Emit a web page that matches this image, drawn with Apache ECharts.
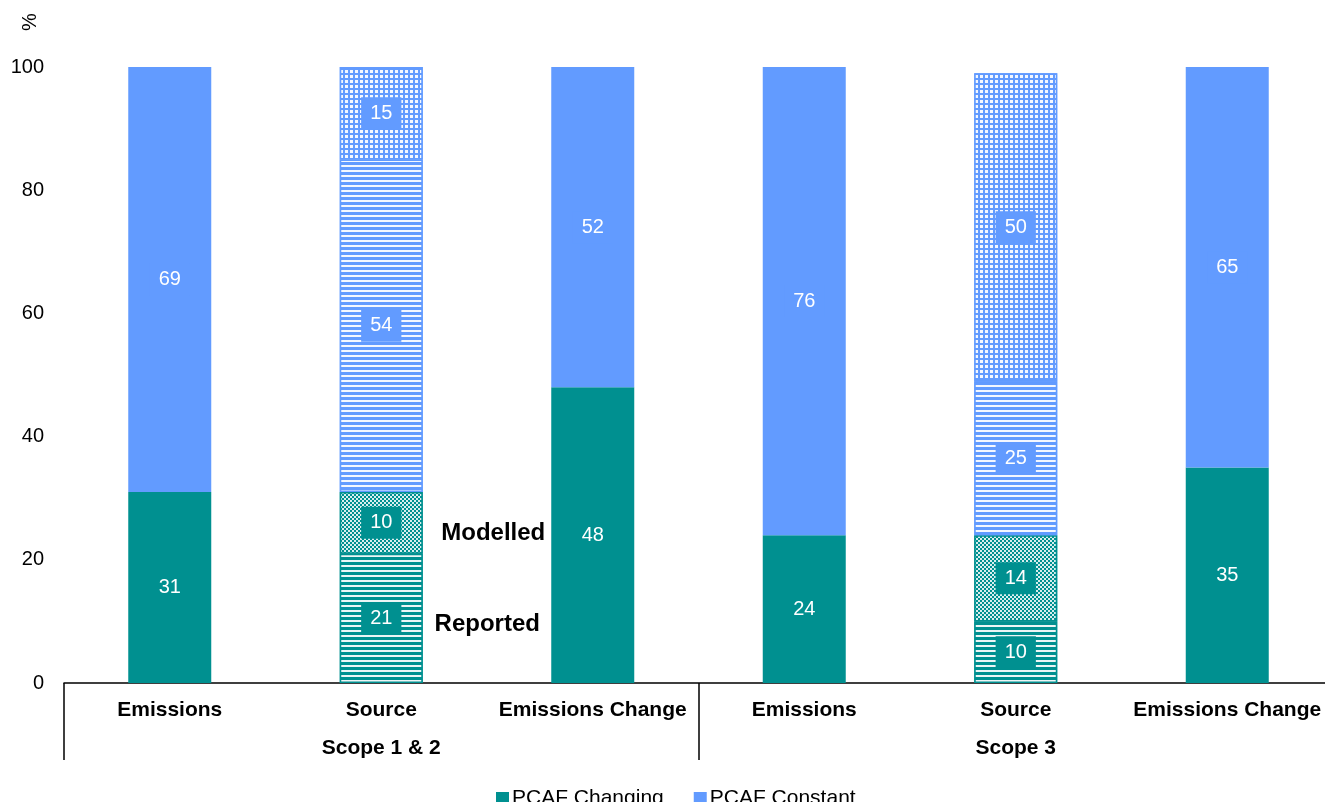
<!DOCTYPE html>
<html>
<head>
<meta charset="utf-8">
<script src="https://cdn.jsdelivr.net/npm/echarts@6/dist/echarts.min.js"></script>
<style>
  html, body { margin: 0; padding: 0; background: #fff; overflow: hidden; }
  /* canvas runs a little past the right edge so the last category keeps its full band */
  #chart { width: 1340px; height: 802px; }
</style>
</head>
<body>
<div id="chart"></div>
<script>
// Share of financed emissions by PCAF data-quality status (%)
const categories = ['Emissions', 'Source', 'Emissions Change', 'Emissions', 'Source', 'Emissions Change'];
const scopes = ['Scope 1 & 2', 'Scope 3'];

// Reported / single values and the modelled parts of the "Source" bars
const changingReported = [31, 21, 48, 24, 10, 35];
const changingModelled = [null, 10, null, null, 14, null];
const constantReported = [69, 54, 52, 76, 25, 65];
const constantModelled = [null, 15, null, null, 50, null];

const yTicks = [0, 20, 40, 60, 80, 100];
const sourceNotes = ['Modelled', 'Reported'];

const TEAL = '#009090';
const BLUE = '#629BFF';
const FONT = '"Liberation Sans", Arial, sans-serif';

const stripes = {
  symbol: 'rect', symbolSize: 1, color: 'rgba(255,255,255,0.92)',
  dashArrayX: [1, 0], dashArrayY: [2, 2.5], rotation: 0
};
const fineChecker = {
  symbol: 'rect', symbolSize: 1, color: 'rgba(255,255,255,0.85)',
  dashArrayX: [[1.5, 1.5], [0, 1.5, 1.5, 0]], dashArrayY: [1.5, 0], rotation: 0
};
const weave = {
  symbol: 'rect', symbolSize: 1, color: 'rgba(255,255,255,0.92)',
  dashArrayX: [2.5, 2], dashArrayY: [2.5, 2], rotation: 0
};

function buildData(values, color, decal, alwaysPatterned) {
  return values.map(function (v, i) {
    if (v === null) return '-';
    const patterned = alwaysPatterned || categories[i] === 'Source';
    return {
      value: v,
      itemStyle: patterned
        ? { color: color, decal: decal, borderColor: color, borderWidth: 1.5 }
        : { color: color }
    };
  });
}

function barSeries(name, values, color, decal, alwaysPatterned) {
  return {
    name: name,
    type: 'bar',
    stack: 'total',
    barWidth: 83,
    itemStyle: { color: color },
    data: buildData(values, color, decal, alwaysPatterned),
    label: {
      show: true,
      position: 'inside',
      color: '#fff',
      fontFamily: FONT,
      fontSize: 20,
      backgroundColor: color,
      padding: [7, 9, 5, 9]
    },
    emphasis: { disabled: true }
  };
}

// Annotation anchors: centres of the reported / modelled segments of the first "Source" bar
const srcIdx = categories.indexOf('Source');
const noteData = [
  { value: [srcIdx, changingReported[srcIdx] + changingModelled[srcIdx] / 2], name: sourceNotes[0],
    label: { offset: [112, 11] } },
  { value: [srcIdx, changingReported[srcIdx] / 2], name: sourceNotes[1],
    label: { offset: [106, 6] } }
];

const chart = echarts.init(document.getElementById('chart'));
chart.setOption({
  animation: false,
  textStyle: { fontFamily: FONT },
  grid: { left: 64, right: 7, top: 67, bottom: 119, containLabel: false },
  legend: {
    data: ['PCAF Changing', 'PCAF Constant'],
    top: 783,
    left: 491,
    icon: 'rect',
    itemWidth: 13,
    itemHeight: 13,
    itemGap: 30,
    textStyle: { fontFamily: FONT, fontSize: 21, color: '#000', padding: [0, 0, 0, -2] }
  },
  xAxis: [
    {
      type: 'category',
      data: categories,
      position: 'bottom',
      axisLine: { show: true, lineStyle: { color: '#000', width: 1.5 } },
      axisTick: { show: false },
      axisLabel: { interval: 0, margin: 17, fontFamily: FONT, fontSize: 21, fontWeight: 'bold', color: '#000' }
    },
    {
      type: 'category',
      data: scopes,
      position: 'bottom',
      offset: 0,
      axisLine: { show: false },
      axisTick: { show: true, interval: 0, length: 77, lineStyle: { color: '#000', width: 1.5 } },
      axisLabel: { interval: 0, margin: 55, fontFamily: FONT, fontSize: 21, fontWeight: 'bold', color: '#000' }
    }
  ],
  yAxis: {
    type: 'value',
    min: yTicks[0],
    max: yTicks[yTicks.length - 1],
    interval: yTicks[1] - yTicks[0],
    axisLine: { show: false },
    axisTick: { show: false },
    splitLine: { show: false },
    axisLabel: { margin: 20, fontFamily: FONT, fontSize: 20, color: '#000' }
  },
  graphic: [
    {
      type: 'text', x: 30, y: 22, rotation: Math.PI / 2,
      style: { text: '%', font: '20px ' + FONT, fill: '#000', align: 'center', verticalAlign: 'middle' }
    }
  ],
  series: [
    barSeries('PCAF Changing', changingReported, TEAL, stripes, false),
    barSeries('PCAF Changing (modelled)', changingModelled, TEAL, fineChecker, true),
    barSeries('PCAF Constant', constantReported, BLUE, stripes, false),
    barSeries('PCAF Constant (modelled)', constantModelled, BLUE, weave, true),
    {
      name: 'notes',
      type: 'scatter',
      symbolSize: 0,
      silent: true,
      itemStyle: { opacity: 1 },
      data: noteData,
      label: {
        show: true,
        position: 'inside',
        formatter: '{b}',
        fontFamily: FONT,
        fontSize: 24,
        fontWeight: 'bold',
        color: '#000'
      }
    }
  ]
});
</script>
</body>
</html>
